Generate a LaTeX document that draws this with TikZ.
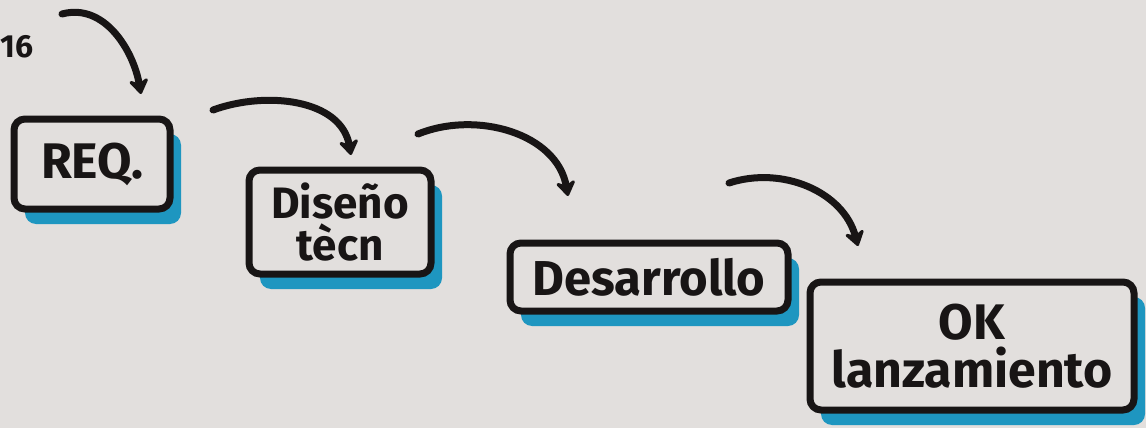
\documentclass[tikz,border=0pt]{standalone}
\usepackage{fontspec}
\setmainfont{Fira Sans}
\usetikzlibrary{arrows.meta,shadows}

\definecolor{paper}{RGB}{226,223,221}
\definecolor{ink}{RGB}{24,21,21}
\definecolor{marker}{RGB}{30,150,192}

\tikzset{
  stage/.style={
    draw=ink, line width=7pt, rounded corners=11pt, fill=paper,
    inner sep=0pt, align=center, text=ink,
    font=\bfseries\fontsize{44}{46}\selectfont,
    drop shadow={shadow xshift=11pt, shadow yshift=-15pt,
                 fill=marker, opacity=1}
  },
  flow/.style={
    draw=ink, line width=7pt, line cap=round,
    -{Stealth[length=18pt,width=24pt,inset=6pt,round]}
  }
}

\begin{document}
\begin{tikzpicture}[x=1pt,y=1pt]
  % page
  \useasboundingbox (0,0) rectangle (1146,-428);
  \fill[paper] (0,0) rectangle (1146,-428);
  \clip (0,0) rectangle (1146,-428);

  % stage boxes, descending left to right
  \node[stage, minimum width=156pt, minimum height=90pt,
        font=\bfseries\fontsize{50}{52}\selectfont] (req) at (92,-164) {REQ.};
  \node[stage, minimum width=182pt, minimum height=104pt,
        font=\bfseries\fontsize{44}{42}\selectfont] (dis) at (340,-222) {Diseño\\tècn};
  \node[stage, minimum width=278pt, minimum height=68pt,
        font=\bfseries\fontsize{49}{50}\selectfont] (des) at (649,-277) {Desarrollo};
  \node[stage, minimum width=324pt, minimum height=128pt,
        font=\bfseries\fontsize{50}{48}\selectfont] (ok) at (972,-346) {OK\\lanzamiento};

  % label cut by the left edge
  \node[text=ink, font=\bfseries\fontsize{32}{32}\selectfont, anchor=east,
        inner sep=0pt] (num) at (34,-47) {16};

  % arrow end points
  \coordinate (s1) at (62,-14);   \coordinate (e1) at (141,-94);
  \coordinate (s2) at (213,-110); \coordinate (e2) at (351,-155);
  \coordinate (s3) at (418,-134); \coordinate (e3) at (568,-196);
  \coordinate (s4) at (729,-183); \coordinate (e4) at (858,-246);

  % connectors between the stages
  \draw[flow] (s1) to[out=15,in=100] (e1);
  \draw[flow] (s2) to[out=20,in=100] (e2);
  \draw[flow] (s3) to[out=22,in=100] (e3);
  \draw[flow] (s4) to[out=18,in=105] (e4);
\end{tikzpicture}
\end{document}
